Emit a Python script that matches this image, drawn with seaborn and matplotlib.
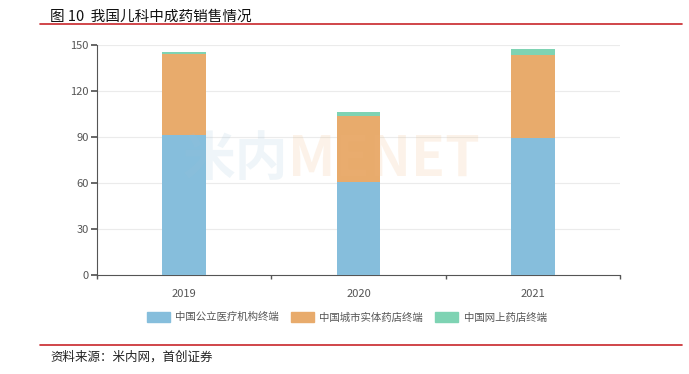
import numpy as np
import pandas as pd
import matplotlib
matplotlib.use("Agg")
import matplotlib.pyplot as plt
import matplotlib.patches as mpatches
import seaborn as sns

years = ["2019", "2020", "2021"]
public_hosp = [91.5, 60.7, 89.5]
city_store = [52.8, 43.0, 54.0]
online_store = [1.2, 2.6, 3.8]
series_names = ["中国公立医疗机构终端", "中国城市实体药店终端", "中国网上药店终端"]
y_ticks = [0, 30, 60, 90, 120, 150]

COLORS = ["#86BEDC", "#E8AB6C", "#7ED3B3"]

sns.set_theme(style="white")
plt.rcParams["font.family"] = ["Noto Sans CJK SC", "DejaVu Sans"]

df = pd.DataFrame({
    "year": years,
    "s1": public_hosp,
    "s2": np.add(public_hosp, city_store),
    "s3": np.add(np.add(public_hosp, city_store), online_store),
})

fig = plt.figure(figsize=(6.89, 3.74), dpi=100)
ax = fig.add_axes([0.1408, 0.2647, 0.759, 0.615])

# stacked bars: draw cumulative totals from top down
for col, c in zip(["s3", "s2", "s1"], COLORS[::-1]):
    sns.barplot(data=df, x="year", y=col, color=c, width=0.25,
                saturation=1, linewidth=0, ax=ax, zorder=3)

ax.set_ylim(0, 150)
ax.set_xlim(-0.5, 2.5)
ax.set_yticks(y_ticks)
ax.set_yticklabels([str(v) for v in y_ticks])
ax.set_xlabel("")
ax.set_ylabel("")
for v in y_ticks[1:]:
    ax.axhline(v, color="#EBEBEB", linewidth=0.8, zorder=0)

for s in ["top", "right"]:
    ax.spines[s].set_visible(False)
ax.spines["left"].set_color("#555555")
ax.spines["bottom"].set_color("#555555")
ax.spines["left"].set_linewidth(0.8)
ax.spines["bottom"].set_linewidth(0.8)
ax.tick_params(axis="y", left=True, length=4, color="#555555",
               labelsize=8, labelcolor="#555555", pad=2)
ax.tick_params(axis="x", bottom=False, labelsize=8,
               labelcolor="#555555", pad=4)
ax.set_xticks([-0.5, 0.5, 1.5, 2.5], minor=True)
ax.tick_params(axis="x", which="minor", bottom=True, length=3,
               color="#555555")

# faint watermark
ax.text(0.365, 0.5, "米内", transform=ax.transAxes, fontsize=38,
        color="#9EC3DA", alpha=0.16, ha="right", va="center",
        fontweight="bold", zorder=4)
ax.text(0.365, 0.5, "MENET", transform=ax.transAxes, fontsize=40,
        color="#F0B47A", alpha=0.16, ha="left", va="center",
        fontweight="bold", zorder=4)

handles = [mpatches.Patch(color=c) for c in COLORS]
fig.legend(handles, series_names, loc="center", ncol=3,
           bbox_to_anchor=(0.503, 0.152), frameon=False, fontsize=7.5,
           labelcolor="#555555", handlelength=2.2, handleheight=1.1,
           columnspacing=1.2, handletextpad=0.5)

# title and rules
fig.text(0.073, 0.955, "图 10  我国儿科中成药销售情况", fontsize=10.5,
         color="#111111", ha="left", va="center")
fig.add_artist(plt.Line2D([0.058, 0.99], [0.935, 0.935], color="#C8262B",
                          linewidth=1.2))
fig.add_artist(plt.Line2D([0.058, 0.99], [0.078, 0.078], color="#C8262B",
                          linewidth=1.2))
fig.text(0.073, 0.045, "资料来源：米内网，首创证券", fontsize=9,
         color="#222222", ha="left", va="center", style="italic")

plt.savefig("out.png", dpi=100)
plt.close()
